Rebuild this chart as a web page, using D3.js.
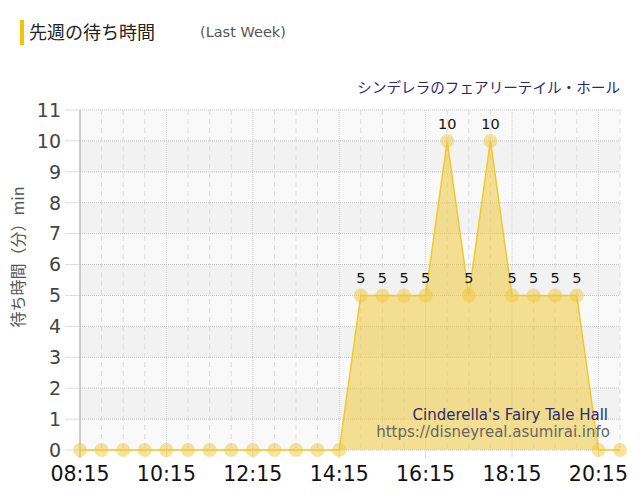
<!DOCTYPE html>
<html>
<head>
<meta charset="utf-8">
<script src="https://cdn.jsdelivr.net/npm/d3@7"></script>
<style>
  body { margin: 0; background: #fff; }
  svg { display: block; }
</style>
</head>
<body>
<script>
// wait times, last week
const times = ['08:15','08:45','09:15','09:45','10:15','10:45','11:15','11:45','12:15','12:45',
               '13:15','13:45','14:15','14:45','15:15','15:45','16:15','16:45','17:15','17:45',
               '18:15','18:45','19:15','19:45','20:15','20:45'];
const waits = [0,0,0,0,0,0,0,0,0,0,
               0,0,0,5,5,5,5,10,5,10,
               5,5,5,5,0,0];
const xTickLabels = ['08:15','10:15','12:15','14:15','16:15','18:15','20:15'];
const yTicks = [0,1,2,3,4,5,6,7,8,9,10,11];

const W = 640, H = 500;
const plotL = 80, plotR = 620, plotT = 110, plotB = 450;

const parse = d3.timeParse('%H:%M');
const fmt = d3.timeFormat('%H:%M');
const data = times.map((t, i) => ({ t: parse(t), v: waits[i] }));

const svg = d3.select('body')
  .append('svg')
  .attr('width', W)
  .attr('height', H);

const x = d3.scaleTime()
  .domain(d3.extent(data, d => d.t))
  .range([plotL, plotR]);
const y = d3.scaleLinear()
  .domain([0, 11])
  .range([plotB, plotT]);

// header
svg.append('rect')
  .attr('x', 20).attr('y', 20)
  .attr('width', 4).attr('height', 25)
  .attr('fill', '#f5c400');
svg.append('text')
  .attr('x', 29).attr('y', 39)
  .attr('font-family', 'Noto Sans CJK JP')
  .attr('font-size', 18)
  .attr('fill', '#222')
  .text('先週の待ち時間');
svg.append('text')
  .attr('x', 200).attr('y', 37)
  .attr('font-family', 'DejaVu Sans')
  .attr('font-size', 14.5)
  .attr('fill', '#555')
  .text('(Last Week)');
svg.append('text')
  .attr('x', plotR).attr('y', 93)
  .attr('text-anchor', 'end')
  .attr('font-family', 'Noto Sans CJK JP')
  .attr('font-size', 14.6)
  .attr('fill', '#2b2b6b')
  .text('シンデレラのフェアリーテイル・ホール');

// background bands
const bands = svg.append('g');
for (let i = 0; i < 11; i++)
{
  bands.append('rect')
    .attr('x', plotL)
    .attr('y', y(i + 1))
    .attr('width', plotR - plotL)
    .attr('height', y(i) - y(i + 1))
    .attr('fill', i % 2 == 1 ? '#f2f2f2' : '#f9f9f9');
}

// vertical grid
const xMajor = xTickLabels.map(parse);
svg.append('g')
  .selectAll('line')
  .data(data)
  .join('line')
  .attr('x1', d => x(d.t)).attr('x2', d => x(d.t))
  .attr('y1', plotT).attr('y2', plotB)
  .attr('stroke', d => xTickLabels.includes(fmt(d.t)) ? '#d0d0d0' : '#dcdcdc')
  .attr('stroke-dasharray', d => xTickLabels.includes(fmt(d.t)) ? '1,1' : '5,4');

// horizontal grid + y ticks
const yg = svg.append('g');
yg.selectAll('line.grid')
  .data(yTicks)
  .join('line')
  .attr('class', 'grid')
  .attr('x1', plotL).attr('x2', plotR)
  .attr('y1', d => y(d)).attr('y2', d => y(d))
  .attr('stroke', '#c4c4c4')
  .attr('stroke-dasharray', '1,1');
yg.selectAll('line.tick')
  .data(yTicks)
  .join('line')
  .attr('class', 'tick')
  .attr('x1', 65).attr('x2', plotL)
  .attr('y1', d => y(d)).attr('y2', d => y(d))
  .attr('stroke', '#ddd');
yg.selectAll('text')
  .data(yTicks)
  .join('text')
  .attr('x', 61)
  .attr('y', d => y(d))
  .attr('dy', '0.36em')
  .attr('text-anchor', 'end')
  .attr('font-family', 'DejaVu Sans')
  .attr('font-size', 19)
  .attr('fill', '#444')
  .text(d => d);

// x ticks
const xg = svg.append('g');
xg.selectAll('line')
  .data(xMajor)
  .join('line')
  .attr('x1', d => x(d)).attr('x2', d => x(d))
  .attr('y1', plotB).attr('y2', plotB + 8)
  .attr('stroke', '#ddd');
xg.selectAll('text')
  .data(xMajor)
  .join('text')
  .attr('x', d => x(d))
  .attr('y', 481)
  .attr('text-anchor', 'middle')
  .attr('font-family', 'DejaVu Sans')
  .attr('font-size', 20.5)
  .attr('fill', '#111')
  .text(d => fmt(d));

// y axis line
svg.append('line')
  .attr('x1', plotL).attr('x2', plotL)
  .attr('y1', plotT).attr('y2', plotB + 8)
  .attr('stroke', '#aaa');

// y axis title
svg.append('text')
  .attr('transform', 'translate(24,257) rotate(-90)')
  .attr('text-anchor', 'middle')
  .attr('font-family', 'Noto Sans CJK JP')
  .attr('font-size', 16)
  .attr('fill', '#555')
  .text('待ち時間（分）min');

// area + line
const area = d3.area()
  .x(d => x(d.t))
  .y0(y(0))
  .y1(d => y(d.v));
const line = d3.line()
  .x(d => x(d.t))
  .y(d => y(d.v));

svg.append('path')
  .datum(data)
  .attr('d', area)
  .attr('fill', 'rgba(240,200,60,0.55)');
svg.append('path')
  .datum(data)
  .attr('d', line)
  .attr('fill', 'none')
  .attr('stroke', '#f2c830')
  .attr('stroke-width', 1.5);

// watermark
svg.append('text')
  .attr('x', 608).attr('y', 420)
  .attr('text-anchor', 'end')
  .attr('font-family', 'DejaVu Sans')
  .attr('font-size', 15)
  .attr('fill', '#2b2b6b')
  .text("Cinderella's Fairy Tale Hall");
svg.append('text')
  .attr('x', 610).attr('y', 437)
  .attr('text-anchor', 'end')
  .attr('font-family', 'DejaVu Sans')
  .attr('font-size', 15)
  .attr('fill', '#666')
  .text('https://disneyreal.asumirai.info');

// points
svg.append('g')
  .selectAll('circle')
  .data(data)
  .join('circle')
  .attr('cx', d => x(d.t))
  .attr('cy', d => y(d.v))
  .attr('r', 7)
  .attr('fill', 'rgba(240,200,60,0.5)');

// value labels
svg.append('g')
  .selectAll('text')
  .data(data.filter(d => d.v > 0))
  .join('text')
  .attr('x', d => x(d.t))
  .attr('y', d => y(d.v) - 12)
  .attr('text-anchor', 'middle')
  .attr('font-family', 'DejaVu Sans')
  .attr('font-size', 14.5)
  .attr('fill', '#111')
  .text(d => d.v);
</script>
</body>
</html>
